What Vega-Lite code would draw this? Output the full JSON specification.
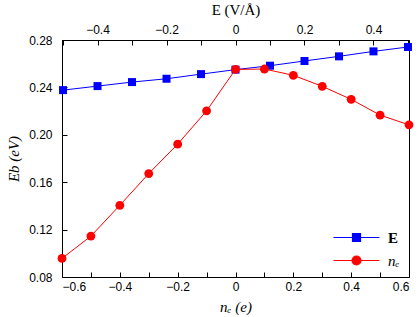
{
  "$schema": "https://vega.github.io/schema/vega-lite/v6.json",
  "width": 347,
  "height": 237,
  "autosize": {"type": "none"},
  "padding": {"left": 62, "top": 40, "right": 11, "bottom": 40},
  "background": "white",
  "config": {
    "view": {"stroke": "black", "strokeWidth": 1},
    "axis": {
      "grid": false,
      "domainColor": "black",
      "tickColor": "black",
      "tickSize": -5,
      "labelFont": "Liberation Sans",
      "labelFontSize": 12,
      "labelColor": "black",
      "labelPadding": 9,
      "titleFont": "Liberation Serif",
      "titleFontSize": 15,
      "titleFontWeight": "normal",
      "titleColor": "black"
    }
  },
  "data": {
    "values": [
      {"series": "E", "x": -0.5, "y": 0.2377},
      {"series": "E", "x": -0.4, "y": 0.2411},
      {"series": "E", "x": -0.3, "y": 0.2445},
      {"series": "E", "x": -0.2, "y": 0.2473},
      {"series": "E", "x": -0.1, "y": 0.2512},
      {"series": "E", "x": 0.0, "y": 0.2550},
      {"series": "E", "x": 0.1, "y": 0.2583},
      {"series": "E", "x": 0.2, "y": 0.2623},
      {"series": "E", "x": 0.3, "y": 0.2662},
      {"series": "E", "x": 0.4, "y": 0.2704},
      {"series": "E", "x": 0.5, "y": 0.2741},
      {"series": "n_e", "x": -0.6, "y": 0.0957},
      {"series": "n_e", "x": -0.5, "y": 0.1145},
      {"series": "n_e", "x": -0.4, "y": 0.1405},
      {"series": "n_e", "x": -0.3, "y": 0.1673},
      {"series": "n_e", "x": -0.2, "y": 0.1921},
      {"series": "n_e", "x": -0.1, "y": 0.2202},
      {"series": "n_e", "x": 0.0, "y": 0.2552},
      {"series": "n_e", "x": 0.1, "y": 0.2555},
      {"series": "n_e", "x": 0.2, "y": 0.2502},
      {"series": "n_e", "x": 0.3, "y": 0.2409},
      {"series": "n_e", "x": 0.4, "y": 0.2299},
      {"series": "n_e", "x": 0.5, "y": 0.2166},
      {"series": "n_e", "x": 0.6, "y": 0.2084}
    ]
  },
  "encoding": {
    "y": {
      "field": "y",
      "type": "quantitative",
      "scale": {"domain": [0.08, 0.28], "nice": false, "zero": false},
      "axis": {
        "title": "Eb (eV)",
        "titleFontStyle": "italic",
        "titlePadding": 7,
        "labelPadding": 15,
        "values": [0.08, 0.12, 0.16, 0.2, 0.24, 0.28],
        "format": ".2f"
      }
    },
    "color": {
      "field": "series",
      "type": "nominal",
      "scale": {"domain": ["E", "n_e"], "range": ["#0000ff", "#ff0000"]},
      "legend": {
        "title": null,
        "orient": "none",
        "legendX": 287,
        "legendY": 190,
        "symbolSize": 100,
        "symbolStrokeWidth": 1.2,
        "labelOffset": 24,
        "labelFont": "Liberation Serif",
        "labelFontSize": 15,
        "labelColor": "black",
        "rowPadding": 7,
        "labelExpr": "datum.value == 'E' ? 'E' : 'nₑ'",
        "encode": {
          "symbols": {
            "update": {
              "shape": {"signal": "datum.value == 'E' ? 'M-4.6,0H4.6M-0.8,-0.8H0.8V0.8H-0.8Z' : 'M-4.6,0H4.6M0.9,0A0.9,0.9 0 1,1 -0.9,0A0.9,0.9 0 1,1 0.9,0Z'"},
              "fill": {"signal": "datum.value == 'E' ? '#0000ff' : '#ff0000'"},
              "stroke": {"signal": "datum.value == 'E' ? '#0000ff' : '#ff0000'"},
              "strokeWidth": {"value": 1.2},
              "opacity": {"value": 1}
            }
          },
          "labels": {
            "update": {
              "fontWeight": {"signal": "datum.value == 'E' ? 'bold' : 'normal'"},
              "fontStyle": {"signal": "datum.value == 'E' ? 'normal' : 'italic'"}
            }
          }
        }
      }
    }
  },
  "layer": [
    {
      "transform": [{"filter": "datum.series == 'E'"}],
      "encoding": {
        "x": {
          "field": "x",
          "type": "quantitative",
          "scale": {"domain": [-0.503, 0.503], "nice": false, "zero": false},
          "axis": {
            "orient": "top",
            "title": "E (V/Å)",
            "titlePadding": 6,
            "values": [-0.5, -0.4, -0.3, -0.2, -0.1, 0, 0.1, 0.2, 0.3, 0.4, 0.5],
            "labelExpr": "abs(round(datum.value * 10)) % 2 == 0 ? (datum.value == 0 ? '0' : format(datum.value, '.1f')) : ''"
          }
        }
      },
      "layer": [
        {"mark": {"type": "line", "strokeWidth": 1}},
        {"mark": {"type": "point", "shape": "square", "filled": true, "opacity": 1, "size": 64}}
      ]
    },
    {
      "transform": [{"filter": "datum.series == 'n_e'"}],
      "encoding": {
        "x": {
          "field": "x",
          "type": "quantitative",
          "scale": {"domain": [-0.6, 0.6], "nice": false, "zero": false},
          "axis": {
            "orient": "bottom",
            "title": "nₑ (e)",
            "titleFontStyle": "italic",
            "titlePadding": 7,
            "values": [-0.6, -0.5, -0.4, -0.3, -0.2, -0.1, 0, 0.1, 0.2, 0.3, 0.4, 0.5, 0.6],
            "labelExpr": "abs(round(datum.value * 10)) % 2 == 0 ? (datum.value == 0 ? '0' : format(datum.value, '.1f')) : ''"
          }
        }
      },
      "layer": [
        {"mark": {"type": "line", "strokeWidth": 1}},
        {"mark": {"type": "point", "shape": "circle", "filled": true, "opacity": 1, "size": 78}}
      ]
    }
  ],
  "resolve": {"scale": {"x": "independent"}}
}
